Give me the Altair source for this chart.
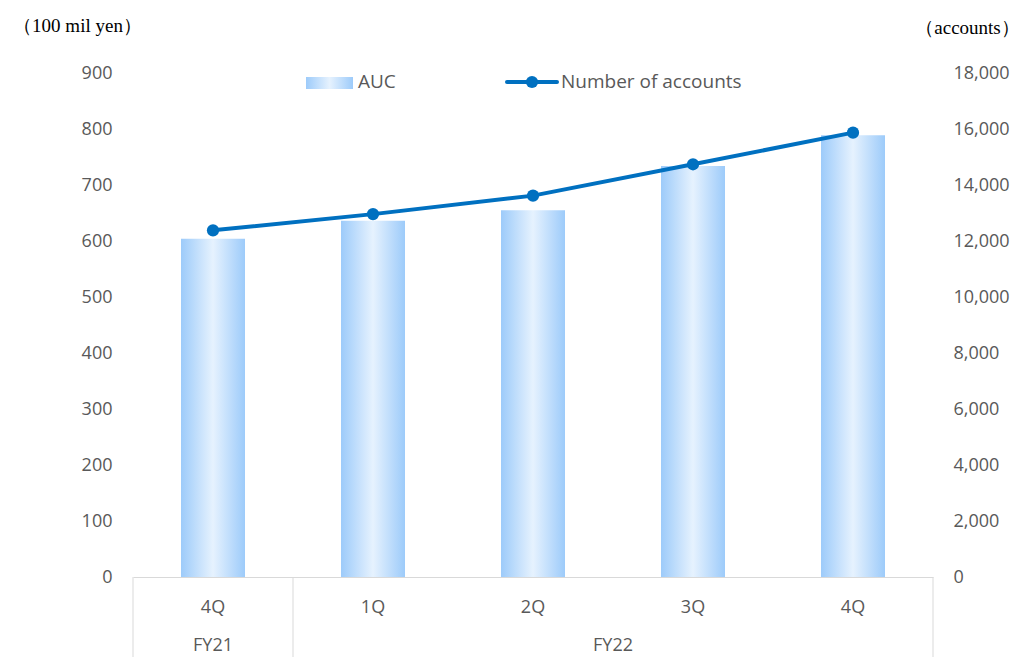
import altair as alt
import pandas as pd

# Quarterly figures
quarters = ["4Q", "1Q", "2Q", "3Q", "4Q"]
fiscal_years = ["FY21", "FY22", "FY22", "FY22", "FY22"]
auc = [604, 636, 655, 734, 789]                       # 100 mil yen
accounts = [12380, 12960, 13620, 14740, 15870]        # accounts

left_ticks = list(range(0, 901, 100))
right_ticks = list(range(0, 18001, 2000))

W, H = 800, 504
LABEL = "#595959"
FONT = "Open Sans"
SERIF = "'Noto Sans CJK JP', Liberation Serif"
TITLE_FONT = "Liberation Serif"
BLUE = "#0070C0"
GRID = "#D9D9D9"
FS = 18

df = pd.DataFrame({
    "period": [f"{fy} {q}" for fy, q in zip(fiscal_years, quarters)],
    "auc": auc,
    "accounts": accounts,
})
order = list(df["period"])

# Fiscal-year groups for the second row of the category axis
groups = []
for i, fy in enumerate(fiscal_years):
    if groups and groups[-1]["fy"] == fy:
        groups[-1]["end"] = i + 1
    else:
        groups.append({"fy": fy, "start": i, "end": i + 1})
gdf = pd.DataFrame(groups)
gdf["mid"] = (gdf["start"] + gdf["end"]) / 2
edges = pd.DataFrame({"edge": sorted(set(gdf["start"]) | set(gdf["end"]))})

bar_fill = alt.Gradient(
    gradient="linear", x1=0, x2=1, y1=0, y2=0,
    stops=[
        alt.GradientStop(offset=0, color="#9DCBFA"),
        alt.GradientStop(offset=0.5, color="#E6F2FE"),
        alt.GradientStop(offset=1, color="#9DCBFA"),
    ],
)

band = alt.Scale(paddingInner=0.6, paddingOuter=0.3)

x_enc = alt.X(
    "period:N", sort=order, scale=band,
    axis=alt.Axis(
        title=None, labelExpr="split(datum.label, ' ')[1]", labelAngle=0,
        labelPadding=30, labelBaseline="middle", ticks=False,
        domainColor=GRID, domainWidth=1, labelColor=LABEL,
        labelFont=FONT, labelFontSize=FS,
    ),
)

bars = alt.Chart(df).mark_bar(fill=bar_fill, stroke=None).encode(
    x=x_enc,
    y=alt.Y(
        "auc:Q", scale=alt.Scale(domain=[0, 900], nice=False),
        axis=alt.Axis(
            values=left_ticks, format=",.0f", grid=False, domain=False, ticks=False,
            labelPadding=21, labelColor=LABEL, labelFont=FONT, labelFontSize=FS,
            title="（100 mil yen）", titleAngle=0, titleX=-56, titleY=-48,
            titleAlign="center", titleBaseline="middle", titleFont=TITLE_FONT,
            titleFontWeight="normal", titleFontSize=19, titleColor="black",
        ),
    ),
)

y_right = alt.Y(
    "accounts:Q", scale=alt.Scale(domain=[0, 18000], nice=False),
    axis=alt.Axis(
        orient="right", values=right_ticks, format=",.0f", grid=False,
        domain=False, ticks=False, labelPadding=20, labelAlign="left",
        labelColor=LABEL, labelFont=FONT, labelFontSize=FS,
        title="（accounts）", titleAngle=0, titleX=34, titleY=-46,
        titleAlign="center", titleBaseline="middle", titleFont=TITLE_FONT,
        titleFontWeight="normal", titleFontSize=19, titleColor="black",
    ),
)

line = alt.Chart(df).mark_line(color=BLUE, strokeWidth=4).encode(
    x=alt.X("period:N", sort=order), y=y_right
)
points = alt.Chart(df).mark_point(filled=True, size=150, color=BLUE, opacity=1).encode(
    x=alt.X("period:N", sort=order), y=y_right
)

main = alt.layer(bars, alt.layer(line, points)).resolve_scale(y="independent")

# Second row of the category axis: fiscal years and separators
group_x = alt.Scale(domain=[0, len(fiscal_years)], nice=False, zero=False)
fy_text = alt.Chart(gdf).mark_text(
    font=FONT, fontSize=FS, color=LABEL, baseline="middle", align="center"
).encode(
    x=alt.X("mid:Q", scale=group_x, axis=None),
    y=alt.value(H + 69),
    text="fy:N",
)
fy_rules = alt.Chart(edges).mark_rule(color=GRID, strokeWidth=1).encode(
    x=alt.X("edge:Q", scale=group_x, axis=None),
    y=alt.value(H),
    y2=alt.value(H + 80),
)

# Legend
one = pd.DataFrame({"k": [0]})
leg_swatch = alt.Chart(one).mark_rect(fill=bar_fill).encode(
    x=alt.value(173), x2=alt.value(220), y=alt.value(4), y2=alt.value(16)
)
leg_auc = alt.Chart(one).mark_text(
    text="AUC", font=FONT, fontSize=19, color=LABEL, align="left", baseline="middle"
).encode(x=alt.value(225), y=alt.value(9))
leg_line = alt.Chart(one).mark_rule(color=BLUE, strokeWidth=4, strokeCap="round").encode(
    x=alt.value(374), x2=alt.value(424), y=alt.value(9)
)
leg_dot = alt.Chart(one).mark_point(filled=True, size=150, color=BLUE, opacity=1).encode(
    x=alt.value(399), y=alt.value(9)
)
leg_acc = alt.Chart(one).mark_text(
    text="Number of accounts", font=FONT, fontSize=19, color=LABEL,
    align="left", baseline="middle"
).encode(x=alt.value(428), y=alt.value(9))

chart = alt.layer(
    main, fy_rules, fy_text, leg_swatch, leg_auc, leg_line, leg_dot, leg_acc
).resolve_scale(x="independent").properties(
    width=W, height=H,
    autosize=alt.AutoSizeParams(type="none"),
    padding={"left": 133, "top": 73, "right": 88, "bottom": 80},
).configure_view(stroke=None)

chart.save("out.html", embed_options={"renderer": "svg", "actions": False})
